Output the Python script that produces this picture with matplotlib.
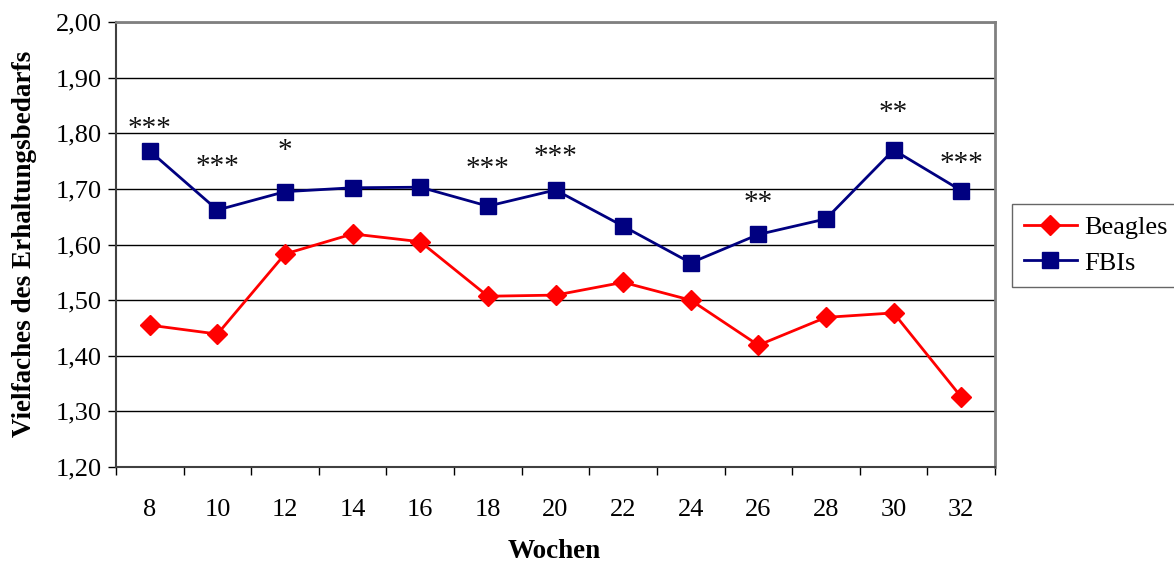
import numpy as np
import matplotlib
matplotlib.use('Agg')
from matplotlib import pyplot as plt

weeks = ['8', '10', '12', '14', '16', '18', '20', '22', '24', '26', '28', '30', '32']
beagles = [1.455, 1.439, 1.583, 1.619, 1.605, 1.507, 1.509, 1.532, 1.500, 1.419, 1.469, 1.477, 1.326]
fbis = [1.768, 1.662, 1.695, 1.702, 1.703, 1.669, 1.698, 1.633, 1.567, 1.618, 1.646, 1.770, 1.697]
# Signifikanzsterne: (Woche-Index, Text, Hoehe)
stars = [(0, '***', 1.808), (1, '***', 1.740), (2, '*', 1.768), (5, '***', 1.736),
         (6, '***', 1.757), (9, '**', 1.674), (11, '**', 1.837), (12, '***', 1.745)]

plt.rcParams['font.family'] = ['Liberation Serif', 'DejaVu Serif']

fig = plt.figure(figsize=(11.74, 5.65), dpi=100)
ax = fig.add_axes([116/1174, 1 - 467/565, 879/1174, 445/565])

x = np.arange(len(weeks))
ax.plot(x, beagles, color='#ff0000', lw=2, marker='D', ms=10.5, label='Beagles')
ax.plot(x, fbis, color='#000080', lw=2, marker='s', ms=12, label='FBIs')

for i, txt, h in stars:
    ax.text(i, h, txt, ha='center', va='center', fontsize=21, color='#111111')

ax.set_xlim(-0.5, len(weeks) - 0.5)
ax.set_ylim(1.2, 2.0)
yt = np.arange(1.2, 2.001, 0.1)
ax.set_yticks(yt)
ax.set_yticklabels([f'{v:.2f}'.replace('.', ',') for v in yt], fontsize=19)
ax.yaxis.grid(True, color='black', lw=1)
ax.set_axisbelow(True)

# Kategorien zwischen den Teilstrichen
ax.set_xticks(x)
ax.set_xticklabels(weeks, fontsize=19)
ax.set_xticks(np.arange(-0.5, len(weeks)), minor=True)
ax.tick_params(axis='x', which='major', length=0, pad=23)
ax.tick_params(axis='x', which='minor', length=6, width=1, direction='out')
ax.tick_params(axis='y', length=6, width=1, direction='out', pad=4)

for s in ['left', 'bottom']:
    ax.spines[s].set_color('#404040')
    ax.spines[s].set_linewidth(1.5)
for s in ['top', 'right']:
    ax.spines[s].set_color('#808080')
    ax.spines[s].set_linewidth(2)

# Achsentitel
fig.text(25/1174, 1 - 244/565, 'Vielfaches des Erhaltungsbedarfs', rotation=90,
         ha='center', va='center', fontsize=19.5, fontweight='bold')
fig.text(554/1174, 1 - 552/565, 'Wochen', ha='center', va='center',
         fontsize=19.5, fontweight='bold')

leg = fig.legend(loc='upper left', bbox_to_anchor=(1012/1174, 1 - 204/565),
                 borderaxespad=0, fontsize=19, frameon=True, fancybox=False,
                 borderpad=0.45, handlelength=2.0, handletextpad=0.27,
                 labelspacing=0.45)
leg.get_frame().set_edgecolor('#404040')
leg.get_frame().set_linewidth(1)

fig.savefig('out.png', dpi=100)
